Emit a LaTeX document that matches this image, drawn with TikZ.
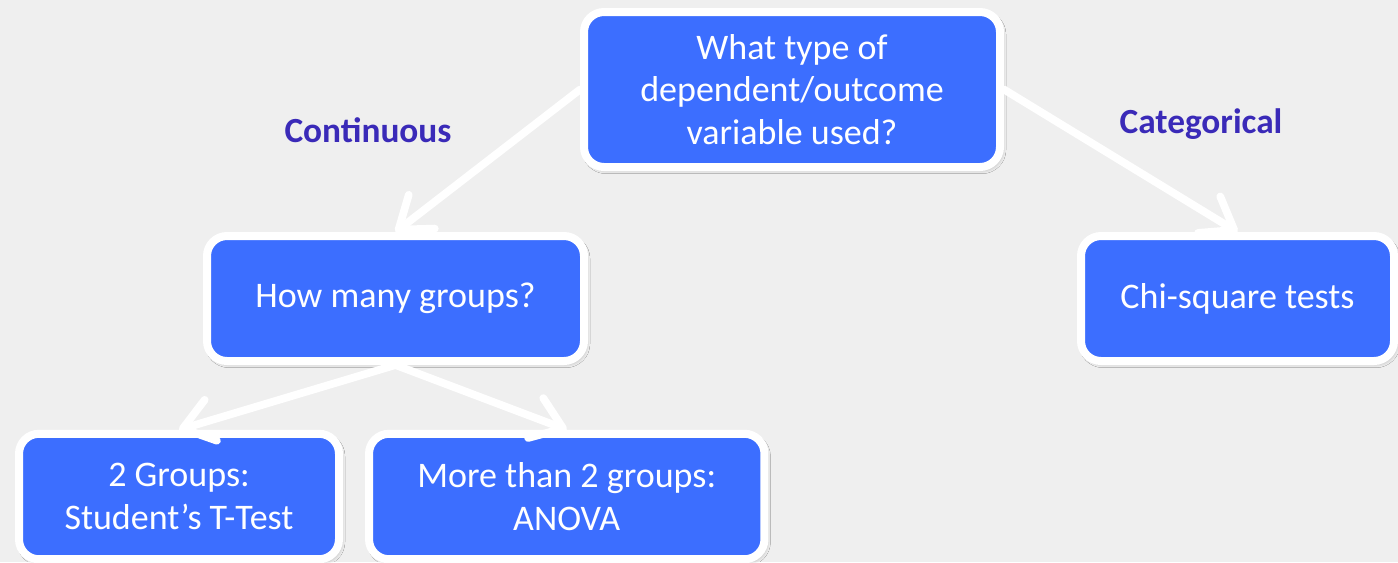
\documentclass[tikz,border=0pt]{standalone}
\usepackage{fontspec}
\setmainfont{Carlito}
\usetikzlibrary{arrows.meta,shadows.blur}
\definecolor{pagebg}{RGB}{239,239,239}
\definecolor{boxblue}{RGB}{60,110,255}
\definecolor{labelpurple}{RGB}{58,42,184}
\begin{document}
\begin{tikzpicture}[x=0.75pt,y=-0.75pt,
  box/.style={draw=white, line width=6pt, fill=boxblue, rounded corners=15pt,
    text=white, align=center, inner sep=0pt,
    font=\fontsize{27}{32}\selectfont,
    blur shadow={shadow xshift=1.5pt, shadow yshift=-2pt,
      shadow blur radius=3pt, shadow opacity=30}},
  conn/.style={draw=white, line width=5.8pt, line cap=round,
    -{Straight Barb[length=22pt, width=32pt, line cap=round, line join=round]}},
  branch/.style={text=labelpurple, font=\bfseries\fontsize{26.5}{30}\selectfont,
    anchor=base, inner sep=0pt}]
  % page background
  \fill[pagebg] (0,0) rectangle (1398,562);
  \useasboundingbox (0,0) rectangle (1398,562);

  % decision boxes
  \node[box, minimum width=312pt, minimum height=116.25pt] (top) at (792,89.5)
    {What type of\\dependent/outcome\\variable used?};
  \node[box, minimum width=282.75pt, minimum height=93.75pt] (groups) at (395.5,298.5)
    {How many groups?};
  \node[box, minimum width=234.75pt, minimum height=93.75pt] (chi) at (1237.5,298.5)
    {Chi-square tests};
  \node[box, minimum width=240pt, minimum height=94.1pt] (two) at (179,496.5)
    {2 Groups:\\Student’s T-Test};
  \node[box, minimum width=296.6pt, minimum height=94.1pt] (more) at (566.75,496.5)
    {More than 2 groups:\\ANOVA};

  % connectors
  \draw[conn] (top.west) -- (groups.north);
  \draw[conn] (top.east) -- (chi.north);
  \draw[conn] (groups.south) -- (two.north);
  \draw[conn] (groups.south) -- (more.north);

  % branch labels
  \node[branch] (lcont) at (368,142) {Continuous};
  \node[branch] (lcat) at (1201,133) {Categorical};
\end{tikzpicture}
\end{document}
